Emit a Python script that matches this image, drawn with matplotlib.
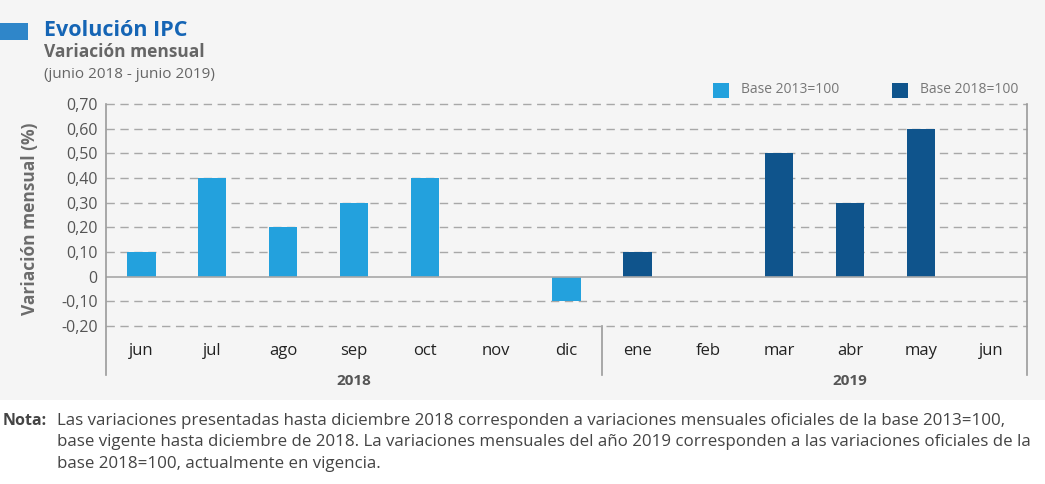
import numpy as np
import matplotlib.pyplot as plt
from matplotlib.patches import Rectangle

meses = ["jun", "jul", "ago", "sep", "oct", "nov", "dic",
         "ene", "feb", "mar", "abr", "may", "jun"]
variacion = [0.1, 0.4, 0.2, 0.3, 0.4, 0.0, -0.1,
             0.1, 0.0, 0.5, 0.3, 0.6, 0.0]
n_base2013 = 7   # jun-dic 2018 -> base 2013=100
años = ["2018", "2019"]
yticks = [-0.2, -0.1, 0, 0.1, 0.2, 0.3, 0.4, 0.5, 0.6, 0.7]
ytick_labels = ["-0,20", "-0,10", "0", "0,10", "0,20", "0,30", "0,40", "0,50", "0,60", "0,70"]

c_light = "#23a1dd"
c_dark = "#0f548c"
grid_c = "#a8a8a8"
plt.rcParams['font.family'] = ['Open Sans', 'DejaVu Sans']

W, H = 1045, 484
fig = plt.figure(figsize=(W / 100, H / 100), dpi=100, facecolor="white")
fig.patches.append(Rectangle((0, 1 - 400 / H), 1, 400 / H, transform=fig.transFigure,
                             facecolor="#f5f5f5", edgecolor="none", zorder=-10))

left, right, top, bot = 106, 1027, 104, 326
ax = fig.add_axes([left / W, 1 - bot / H, (right - left) / W, (bot - top) / H])
ax.set_facecolor("none")

x = np.arange(len(meses))
colors = [c_light if i < n_base2013 else c_dark for i in x]
ax.bar(x, variacion, width=0.4, color=colors, zorder=3)

ax.set_xlim(-0.5, len(meses) - 0.5)
ax.set_ylim(-0.2, 0.7)
ax.set_yticks(yticks)
ax.set_yticklabels(ytick_labels, fontsize=11.5, color="#555555")
ax.tick_params(axis="y", length=0, pad=6)
ax.set_xticks([])

for v in yticks:
    if v == 0:
        ax.axhline(0, color=grid_c, lw=1.2, zorder=4)
    else:
        ax.axhline(v, color=grid_c, lw=1.0, ls=(0, (6, 4)), zorder=1, clip_on=False)

for s in ["top", "bottom", "left", "right"]:
    ax.spines[s].set_visible(False)

# vertical frame lines extending below the plot
ext = -(375 - bot) / (bot - top)
for xv in [-0.5, n_base2013 - 0.5, len(meses) - 0.5]:
    y1 = 1.0 if xv != n_base2013 - 0.5 else 0.0
    ax.plot([xv, xv], [ext, y1], color="#9a9a9a", lw=1.2,
            transform=ax.get_xaxis_transform(), clip_on=False, zorder=5)

mt = -(351 - bot) / (bot - top)
for i, m in enumerate(meses):
    ax.text(i, mt, m, transform=ax.get_xaxis_transform(), ha="center", va="center",
            fontsize=12, color="#222222")
yt = -(381 - bot) / (bot - top)
ax.text(3, yt, años[0], transform=ax.get_xaxis_transform(), ha="center", va="center",
        fontsize=11, color="#555555", fontweight="bold")
ax.text(10, yt, años[1], transform=ax.get_xaxis_transform(), ha="center", va="center",
        fontsize=11, color="#555555", fontweight="bold")

fig.text(30 / W, 1 - 219 / H, "Variación mensual (%)", rotation=90, ha="center", va="center",
         fontsize=12.5, fontweight="bold", color="#6b6b6b")

# titles
fig.patches.append(Rectangle((0, 1 - 40 / H), 28 / W, 17 / H, transform=fig.transFigure,
                             facecolor="#2f86c9", edgecolor="none"))
fig.text(44 / W, 1 - 30 / H, "Evolución IPC", fontsize=15.5, fontweight="bold",
         color="#1565b5", va="center")
fig.text(44 / W, 1 - 52 / H, "Variación mensual", fontsize=12.5, fontweight="bold",
         color="#666666", va="center")
fig.text(44 / W, 1 - 75 / H, "(junio 2018 - junio 2019)", fontsize=11,
         color="#666666", va="center")

# legend
for sx, col, lab in [(713, c_light, "Base 2013=100"), (892, c_dark, "Base 2018=100")]:
    fig.patches.append(Rectangle((sx / W, 1 - 98 / H), 16 / W, 15 / H, transform=fig.transFigure,
                                 facecolor=col, edgecolor="none"))
    fig.text((sx + 28) / W, 1 - 90 / H, lab, fontsize=10, color="#777777", va="center")

# note
fig.text(3 / W, 1 - 421 / H, "Nota:", fontsize=11.5, fontweight="bold", color="#444444",
         va="center")
nota = ["Las variaciones presentadas hasta diciembre 2018 corresponden a variaciones mensuales oficiales de la base 2013=100,",
        "base vigente hasta diciembre de 2018. La variaciones mensuales del año 2019 corresponden a las variaciones oficiales de la",
        "base 2018=100, actualmente en vigencia."]
for k, line in enumerate(nota):
    fig.text(57 / W, 1 - (421 + 21.5 * k) / H, line, fontsize=12.2, color="#444444",
             va="center")

fig.savefig("out.png", dpi=100, facecolor="white")
